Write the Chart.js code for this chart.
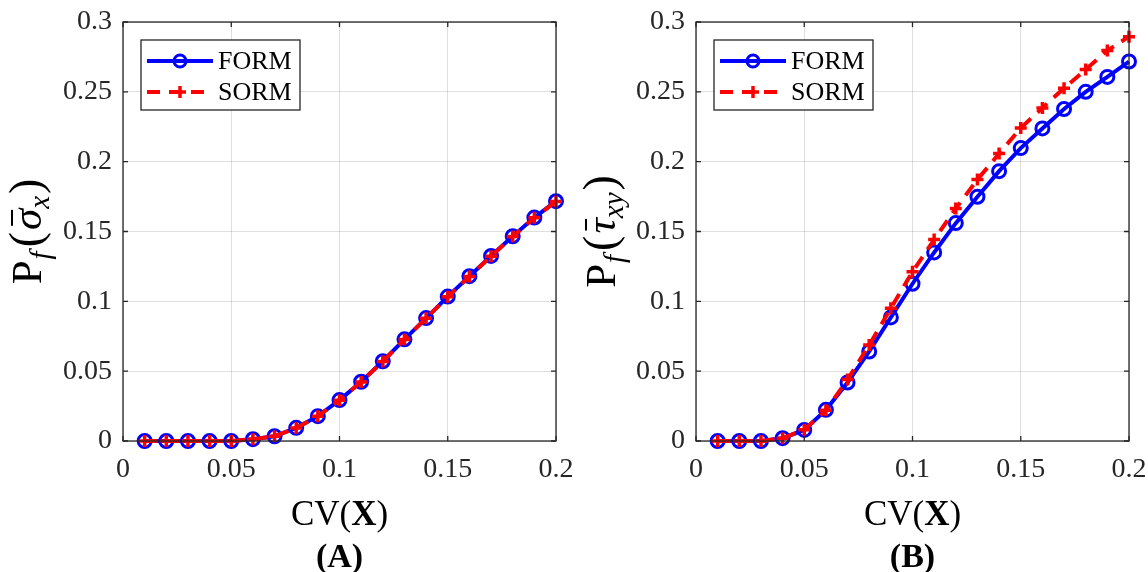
<!DOCTYPE html>
<html>
<head>
<meta charset="utf-8">
<script src="https://cdn.jsdelivr.net/npm/chart.js@4.4.0/dist/chart.umd.min.js"></script>
<style>
  html, body { margin: 0; padding: 0; background: #fff; }
  #wrap { position: relative; width: 1148px; height: 572px; }
  .panel { position: absolute; top: 0; width: 574px; height: 572px; }
</style>
</head>
<body>
<div id="wrap">
  <div class="panel" style="left:0"><canvas id="chartA" width="574" height="572"></canvas></div>
  <div class="panel" style="left:574px"><canvas id="chartB" width="574" height="572"></canvas></div>
</div>
<script>
// values
const cv = [0.01, 0.02, 0.03, 0.04, 0.05, 0.06, 0.07, 0.08, 0.09, 0.1,
            0.11, 0.12, 0.13, 0.14, 0.15, 0.16, 0.17, 0.18, 0.19, 0.2];
const xTicks = [0, 0.05, 0.1, 0.15, 0.2];
const yTicks = [0, 0.05, 0.1, 0.15, 0.2, 0.25, 0.3];
const seriesNames = ['FORM', 'SORM'];

const formA = [0, 0, 0, 0, 0, 0.0013, 0.0034, 0.0094, 0.0178, 0.0293,
               0.0424, 0.0571, 0.0728, 0.088, 0.1034, 0.118, 0.1325, 0.1466, 0.160, 0.1717];
const sormA = [0, 0, 0, 0, 0, 0.0013, 0.0034, 0.0093, 0.0177, 0.0292,
               0.0423, 0.0570, 0.0727, 0.0879, 0.1032, 0.1178, 0.1323, 0.1464, 0.1598, 0.1715];
const formB = [0, 0, 0, 0.002, 0.0079, 0.0223, 0.0419, 0.0641, 0.0885, 0.1126,
               0.135, 0.156, 0.1749, 0.1932, 0.2097, 0.2238, 0.2377, 0.25, 0.2607, 0.2717];
const sormB = [0, 0, 0, 0.002, 0.008, 0.022, 0.044, 0.0688, 0.095, 0.1212,
               0.1442, 0.1665, 0.1872, 0.2058, 0.2241, 0.2385, 0.2526, 0.266, 0.2796, 0.2895];

const serif = "'Liberation Serif', 'Times New Roman', serif";
const blue = '#0000ff';
const red = '#ff0000';
const axisColor = '#262626';
const gridColor = 'rgba(38,38,38,0.15)';

function points(ys) {
    return cv.map((x, i) => ({ x: x, y: ys[i] }));
}

// draw a run of text pieces (normal / italic / bold / subscript) one after another
function drawPieces(ctx, parts, x, y) {
    let cx = x;
    parts.forEach(p => {
        ctx.font = p.font;
        const w = ctx.measureText(p.t).width;
        ctx.fillText(p.t, cx, y + (p.dy || 0));
        if (p.bar) {
            ctx.fillRect(cx + w * 0.2, y - p.bar, w * 0.75, 2);
        }
        cx += w + (p.gap || 0);
    });
    return cx - x;
}
function piecesWidth(ctx, parts) {
    let w = 0;
    parts.forEach(p => { ctx.font = p.font; w += ctx.measureText(p.t).width + (p.gap || 0); });
    return w;
}

const matlabAxes = {
    id: 'matlabAxes',
    afterDraw(chart, args, opts) {
        const ctx = chart.ctx;
        const a = chart.chartArea;
        const xs = chart.scales.x, ys = chart.scales.y;
        ctx.save();

        // box + inward ticks
        ctx.strokeStyle = axisColor;
        ctx.lineWidth = 1.3;
        ctx.strokeRect(a.left, a.top, a.right - a.left, a.bottom - a.top);
        ctx.beginPath();
        xTicks.forEach(v => {
            const px = xs.getPixelForValue(v);
            ctx.moveTo(px, a.bottom); ctx.lineTo(px, a.bottom - 5);
            ctx.moveTo(px, a.top); ctx.lineTo(px, a.top + 5);
        });
        yTicks.forEach(v => {
            const py = ys.getPixelForValue(v);
            ctx.moveTo(a.left, py); ctx.lineTo(a.left + 5, py);
            ctx.moveTo(a.right, py); ctx.lineTo(a.right - 5, py);
        });
        ctx.stroke();

        // legend
        const bx = a.left + 18, by = a.top + 18, bw = 159, bh = 70;
        ctx.fillStyle = '#fff';
        ctx.fillRect(bx, by, bw, bh);
        ctx.lineWidth = 1.3;
        ctx.strokeRect(bx, by, bw, bh);
        const rows = [by + 21, by + 52];
        seriesNames.forEach((name, i) => {
            const ds = chart.data.datasets.find(d => d.label === name);
            const ry = rows[i];
            ctx.strokeStyle = ds.borderColor;
            ctx.lineWidth = ds.borderWidth;
            ctx.setLineDash(ds.borderDash || []);
            ctx.lineDashOffset = 0;
            ctx.beginPath();
            ctx.moveTo(bx + 6, ry); ctx.lineTo(bx + 72, ry);
            ctx.stroke();
            ctx.setLineDash([]);
            const mx = bx + 39;
            ctx.lineWidth = ds.pointBorderWidth;
            ctx.beginPath();
            if (ds.pointStyle === 'circle') {
                ctx.arc(mx, ry, ds.pointRadius - 0.5, 0, Math.PI * 2);
            } else {
                const r = ds.pointRadius;
                ctx.moveTo(mx - r, ry); ctx.lineTo(mx + r, ry);
                ctx.moveTo(mx, ry - r); ctx.lineTo(mx, ry + r);
            }
            ctx.stroke();
            ctx.fillStyle = '#000';
            ctx.font = '26px ' + serif;
            ctx.textBaseline = 'middle';
            ctx.textAlign = 'left';
            ctx.fillText(name, bx + 77, ry + 1);
        });

        // x title and panel label
        ctx.fillStyle = '#000';
        ctx.textBaseline = 'alphabetic';
        ctx.textAlign = 'left';
        const cx = (a.left + a.right) / 2;
        const xt = [
            { t: 'CV(', font: '35px ' + serif },
            { t: 'X', font: 'bold 35px ' + serif },
            { t: ')', font: '35px ' + serif }
        ];
        drawPieces(ctx, xt, cx - piecesWidth(ctx, xt) / 2, 525);
        const pl = [{ t: opts.panel, font: 'bold 34px ' + serif }];
        drawPieces(ctx, pl, cx - piecesWidth(ctx, pl) / 2, 567);

        // y title, rotated
        const yt = opts.yTitle;
        const cy = (a.top + a.bottom) / 2;
        ctx.translate(41, cy);
        ctx.rotate(-Math.PI / 2);
        drawPieces(ctx, yt, -piecesWidth(ctx, yt) / 2, 0);
        ctx.restore();
    }
};

function yTitle(sym, sub) {
    return [
        { t: 'P', font: '43px ' + serif, gap: 1 },
        { t: 'f', font: 'italic 29px ' + serif, dy: 9, gap: 4 },
        { t: '(', font: '46px ' + serif, gap: 2 },
        { t: sym, font: 'italic 43px ' + serif, bar: 30 },
        { t: sub, font: 'italic 29px ' + serif, dy: 8, gap: 2 },
        { t: ')', font: '46px ' + serif }
    ];
}

function makeChart(id, form, sorm, panel, sym, sub, yWidth, padRight) {
    const tickFont = { family: serif, size: 28 };
    new Chart(document.getElementById(id), {
        type: 'line',
        data: {
            datasets: [
                {
                    label: 'FORM',
                    data: points(form),
                    borderColor: blue,
                    borderWidth: 4,
                    pointStyle: 'circle',
                    pointRadius: 6.5,
                    pointBorderWidth: 3,
                    pointBorderColor: blue,
                    pointBackgroundColor: 'rgba(0,0,0,0)',
                    tension: 0,
                    clip: false,
                    order: 2
                },
                {
                    label: 'SORM',
                    data: points(sorm),
                    borderColor: red,
                    borderWidth: 4,
                    borderDash: [13, 9],
                    pointStyle: 'cross',
                    pointRadius: 6,
                    pointBorderWidth: 3.5,
                    pointBorderColor: red,
                    pointBackgroundColor: red,
                    tension: 0,
                    clip: false,
                    order: 1
                }
            ]
        },
        options: {
            responsive: false,
            animation: false,
            layout: { padding: { top: 22, right: padRight, left: 0, bottom: 0 } },
            plugins: {
                legend: { display: false },
                tooltip: { enabled: false },
                matlabAxes: { panel: panel, yTitle: yTitle(sym, sub) }
            },
            scales: {
                x: {
                    type: 'linear',
                    min: 0,
                    max: 0.2,
                    afterBuildTicks: s => { s.ticks = xTicks.map(v => ({ value: v })); },
                    afterFit: s => { s.height = 131; s.paddingLeft = 0; s.paddingRight = 0; },
                    ticks: { color: axisColor, font: tickFont, padding: 12, maxRotation: 0,
                             callback: v => String(v) },
                    grid: { color: gridColor, lineWidth: 1, drawTicks: false },
                    border: { display: false }
                },
                y: {
                    type: 'linear',
                    min: 0,
                    max: 0.3,
                    afterBuildTicks: s => { s.ticks = yTicks.map(v => ({ value: v })); },
                    afterFit: s => { s.width = yWidth; s.paddingTop = 0; s.paddingBottom = 0; },
                    ticks: { color: axisColor, font: tickFont, padding: 11,
                             callback: v => String(v) },
                    grid: { color: gridColor, lineWidth: 1, drawTicks: false },
                    border: { display: false }
                }
            }
        },
        plugins: [matlabAxes]
    });
}

makeChart('chartA', formA, sormA, '(A)', 'σ', 'x', 123, 18);
makeChart('chartB', formB, sormB, '(B)', 'τ', 'xy', 122, 19);
</script>
</body>
</html>
